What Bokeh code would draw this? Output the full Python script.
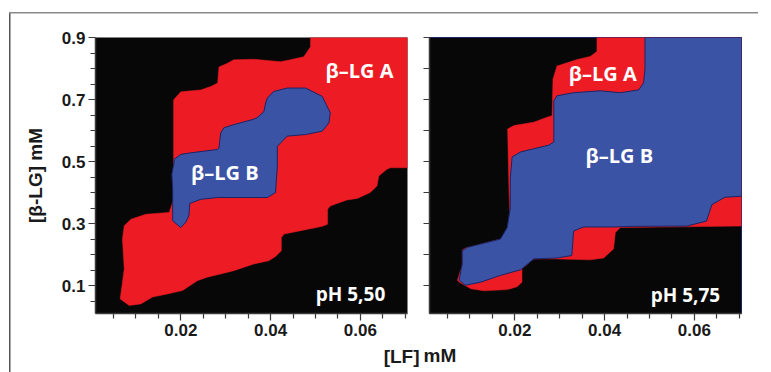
from bokeh.plotting import figure
from bokeh.layouts import row
from bokeh.models import Label, Title, Range1d, FixedTicker
from bokeh.embed import file_html
from bokeh.resources import INLINE

# ---------------- data ----------------
x_label_ticks = [0.02, 0.04, 0.06]
x_other_ticks = [0.005, 0.01, 0.015, 0.025, 0.03, 0.035, 0.045, 0.05, 0.055, 0.065, 0.07]
y_label_ticks = [0.1, 0.3, 0.5, 0.7, 0.9]
y_other_ticks = [0.05, 0.15, 0.2, 0.25, 0.35, 0.4, 0.45, 0.55, 0.6, 0.65, 0.75, 0.8, 0.85]
y_tenth_ticks = [0.1, 0.2, 0.3, 0.4, 0.5, 0.6, 0.7, 0.8, 0.9]

# pH 5,50 : beta-LG A region (red)
p1_red_x = [0.0489, 0.0705, 0.0705, 0.0667, 0.0659, 0.0641, 0.0637, 0.0622, 0.0593, 0.0570,
            0.0533, 0.0527, 0.0527, 0.0515, 0.0467, 0.0430, 0.0424, 0.0424, 0.0411, 0.0396,
            0.0363, 0.0318, 0.0259, 0.0237, 0.0204, 0.0170, 0.0137, 0.0111, 0.0085, 0.0065,
            0.0074, 0.0070, 0.0074, 0.0089, 0.0122, 0.0174, 0.0184, 0.0184, 0.0200, 0.0244,
            0.0267, 0.0282, 0.0285, 0.0304, 0.0318, 0.0363, 0.0422, 0.0444, 0.0474, 0.0489]
p1_red_y = [0.900, 0.900, 0.480, 0.480, 0.475, 0.453, 0.421, 0.400, 0.381, 0.376,
            0.357, 0.346, 0.298, 0.291, 0.277, 0.266, 0.255, 0.212, 0.194, 0.180,
            0.170, 0.148, 0.127, 0.116, 0.084, 0.073, 0.063, 0.041, 0.036, 0.057,
            0.154, 0.250, 0.293, 0.314, 0.330, 0.336, 0.378, 0.699, 0.725, 0.731,
            0.742, 0.753, 0.805, 0.817, 0.828, 0.830, 0.822, 0.828, 0.838, 0.870]
# pH 5,50 : beta-LG B region (blue)
p1_blue_x = [0.0185, 0.0200, 0.0222, 0.0282, 0.0285, 0.0289, 0.0296, 0.0318, 0.0333, 0.0359,
             0.0370, 0.0385, 0.0389, 0.0393, 0.0407, 0.0437, 0.0478, 0.0515, 0.0533, 0.0530,
             0.0515, 0.0478, 0.0437, 0.0415, 0.0415, 0.0411, 0.0393, 0.0282, 0.0244, 0.0220,
             0.0218, 0.0211, 0.0200, 0.0182, 0.0182, 0.0180, 0.0185]
p1_blue_y = [0.507, 0.523, 0.528, 0.539, 0.544, 0.592, 0.609, 0.619, 0.625, 0.635,
             0.641, 0.661, 0.689, 0.705, 0.726, 0.737, 0.737, 0.710, 0.657, 0.625,
             0.598, 0.587, 0.582, 0.549, 0.485, 0.400, 0.384, 0.384, 0.378, 0.365,
             0.325, 0.304, 0.287, 0.309, 0.410, 0.459, 0.497]

# pH 5,75 : beta-LG A region (red)
p2_red_x = [0.0383, 0.0705, 0.0705, 0.0435, 0.0424, 0.0420, 0.0398, 0.0368, 0.0294, 0.0242,
            0.0216, 0.0216, 0.0205, 0.0183, 0.0131, 0.0102, 0.0076, 0.0072, 0.0083, 0.0083,
            0.0090, 0.0139, 0.0168, 0.0183, 0.0189, 0.0187, 0.0184, 0.0198, 0.0242, 0.0272,
            0.0283, 0.0285, 0.0294, 0.0339, 0.0368, 0.0383]
p2_red_y = [0.900, 0.900, 0.292, 0.287, 0.271, 0.218, 0.189, 0.183, 0.186, 0.186,
            0.154, 0.111, 0.096, 0.087, 0.083, 0.090, 0.111, 0.117, 0.165, 0.215,
            0.221, 0.239, 0.250, 0.276, 0.329, 0.404, 0.605, 0.616, 0.627, 0.643,
            0.648, 0.765, 0.808, 0.829, 0.839, 0.855]
# pH 5,75 : beta-LG B region (blue)
p2_blue_x = [0.0490, 0.0705, 0.0705, 0.0668, 0.0639, 0.0627, 0.0583, 0.0464, 0.0420, 0.0353,
             0.0331, 0.0327, 0.0294, 0.0242, 0.0213, 0.0168, 0.0124, 0.0090, 0.0076, 0.0083,
             0.0083, 0.0094, 0.0168, 0.0183, 0.0190, 0.0190, 0.0194, 0.0213, 0.0276, 0.0287,
             0.0287, 0.0294, 0.0331, 0.0390, 0.0435, 0.0476, 0.0487, 0.0490]
p2_blue_y = [0.900, 0.900, 0.388, 0.385, 0.361, 0.308, 0.292, 0.291, 0.289, 0.289,
             0.276, 0.197, 0.189, 0.186, 0.151, 0.133, 0.111, 0.101, 0.117, 0.170,
             0.212, 0.223, 0.250, 0.287, 0.351, 0.446, 0.515, 0.531, 0.553, 0.563,
             0.696, 0.712, 0.722, 0.728, 0.722, 0.731, 0.754, 0.797]

region_a_label = "\u03b2\u2013LG A"
region_b_label = "\u03b2\u2013LG B"
ph_labels = ["pH 5,50", "pH 5,75"]

# ---------------- styling ----------------
RED = "#ED1C24"
BLUE = "#3B53A4"
BLUE_EDGE = "#1B2466"
BG = "#070707"
AX = "#3a3a3a"
TXT = "#1a1a1a"
TICK_FONT = "Liberation Sans"
IN_FONT = "Open Sans"


def base_fig(width, left, right, top, bottom):
    p = figure(width=width, height=372, x_range=Range1d(0.001, 0.0705),
               y_range=Range1d(0.01, 0.9), output_backend="svg", toolbar_location=None,
               min_border_left=left, min_border_right=right,
               min_border_top=top, min_border_bottom=bottom)
    p.background_fill_color = BG
    p.border_fill_color = None
    p.grid.visible = False
    p.outline_line_color = None
    for ax in (p.xaxis[0], p.yaxis[0]):
        ax.axis_line_color = AX
        ax.axis_line_width = 1.5
        ax.major_tick_line_color = AX
        ax.minor_tick_line_color = AX
        ax.major_tick_line_width = 1.2
        ax.minor_tick_line_width = 1.2
        ax.major_tick_in = 0
        ax.minor_tick_in = 0
        ax.major_tick_out = 7
        ax.minor_tick_out = 5
        ax.major_label_text_font = TICK_FONT
        ax.major_label_text_font_style = "bold"
        ax.major_label_text_font_size = "17px"
        ax.major_label_text_color = TXT
    p.xaxis.ticker = FixedTicker(ticks=x_label_ticks, minor_ticks=x_other_ticks)
    p.xaxis.major_label_standoff = 3
    return p


def add_regions(p, rx, ry, bx, by):
    p.patch(rx, ry, fill_color=RED, line_color=RED, line_width=0.5)
    p.patch(bx, by, fill_color=BLUE, line_color=BLUE_EDGE, line_width=1)


def add_text(p, x, y, txt, size):
    p.add_layout(Label(x=x, y=y, text=txt, text_font=IN_FONT, text_font_style="bold",
                       text_font_size=size, text_color="white", text_align="center",
                       text_baseline="middle"))


# ---------- panel 1 (pH 5,50) ----------
p1 = base_fig(421, 95, 14, 37, 57)
add_regions(p1, p1_red_x, p1_red_y, p1_blue_x, p1_blue_y)
p1.yaxis.ticker = FixedTicker(ticks=y_label_ticks, minor_ticks=y_other_ticks)
p1.yaxis.major_label_standoff = 3
p1.yaxis.axis_label = "[\u03b2-LG] mM"
p1.yaxis.axis_label_text_font = TICK_FONT
p1.yaxis.axis_label_text_font_style = "bold"
p1.yaxis.axis_label_text_font_size = "19px"
p1.yaxis.axis_label_text_color = TXT
p1.yaxis.axis_label_standoff = 13
add_text(p1, 0.0598, 0.792, region_a_label, "20px")
add_text(p1, 0.0298, 0.465, region_b_label, "20px")
add_text(p1, 0.0578, 0.073, ph_labels[0], "19px")

# ---------- panel 2 (pH 5,75) ----------
p2 = base_fig(350, 8, 30, 34, 59)
add_regions(p2, p2_red_x, p2_red_y, p2_blue_x, p2_blue_y)
p2.yaxis.ticker = FixedTicker(ticks=[], minor_ticks=y_tenth_ticks)
p2.yaxis.minor_tick_out = 6
p2.yaxis.major_label_standoff = 0
p2.outline_line_color = BLUE_EDGE
p2.outline_line_width = 1
add_text(p2, 0.0396, 0.783, region_a_label, "20px")
add_text(p2, 0.0433, 0.518, region_b_label, "20px")
add_text(p2, 0.0580, 0.069, ph_labels[1], "19px")

# ---------- shared x-axis title (split across the two canvases) ----------
p1.add_layout(Title(text="[LF]", align="right", offset=-12, standoff=10,
                    text_font=TICK_FONT, text_font_style="bold", text_font_size="19px",
                    text_color=TXT), "below")
p2.add_layout(Title(text="mM", align="left", offset=-6, standoff=8,
                    text_font=TICK_FONT, text_font_style="bold", text_font_size="19px",
                    text_color=TXT), "below")

# ---------- outer frame lines (page background of the layout) ----------
frame_css = {
    "background-color": "white",
    "background-image": "linear-gradient(#8a8a8a, #8a8a8a), linear-gradient(#555555, #555555)",
    "background-size": "749px 1.5px, 1.5px 360px",
    "background-position": "9px 11.5px, 9px 12px",
    "background-repeat": "no-repeat",
}

layout = row(p1, p2, styles=frame_css)
open("out.html", "w").write(file_html(layout, INLINE))
